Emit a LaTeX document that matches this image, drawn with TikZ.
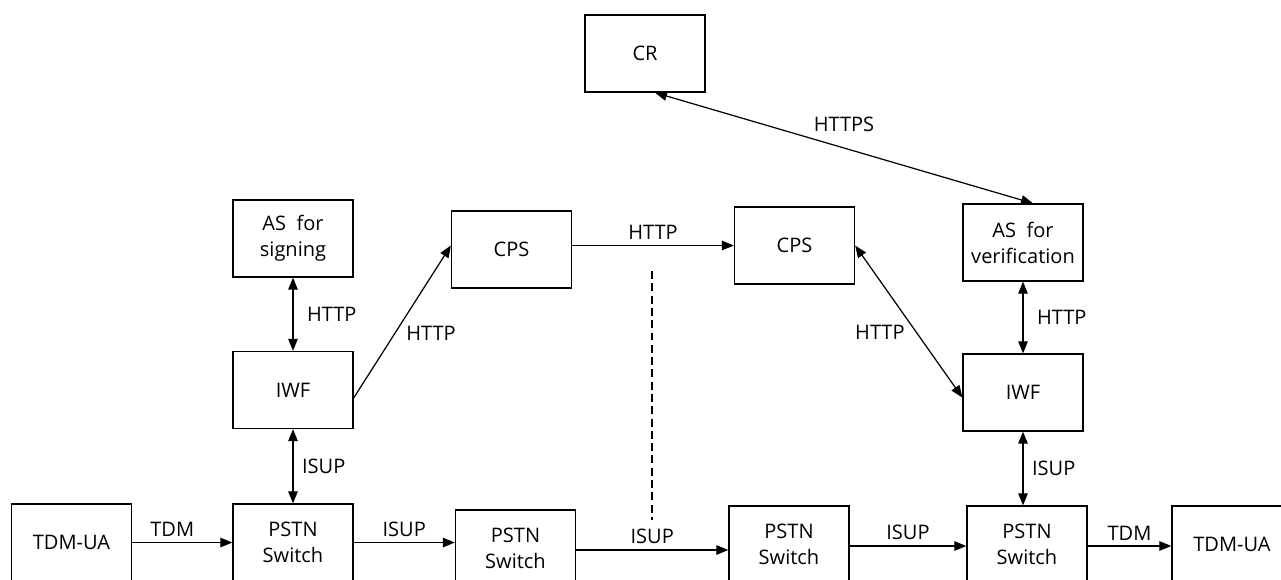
\documentclass[tikz,border=0pt]{standalone}
\usepackage{fontspec}
\setmainfont{Open Sans}
\usepackage{tikz}
\usetikzlibrary{calc, arrows.meta}

\begin{document}
\begin{tikzpicture}[
    x=0.02cm, y=-0.02cm,
    font=\fontsize{11.4}{14.8}\selectfont,
    box/.style={draw, line width=0.75pt, fill=white, align=center,
                minimum width=2.4cm, minimum height=1.54cm, inner sep=2pt},
    link/.style={-{Triangle[length=2.4mm, width=1.9mm]}, line width=0.7pt},
    blink/.style={{Triangle[length=2.4mm, width=1.9mm]}-{Triangle[length=2.4mm, width=1.9mm]}, line width=0.7pt},
    proto/.style={inner sep=2pt},
  ]
  \useasboundingbox (0,0) rectangle (1281,579);
  \clip (0,0) rectangle (1281,579);

  % ---------------- Upper part ----------------
  \node[box] (cr)   at (645, 53.5)    {CR};
  \node[box] (ass)  at (293, 238.5)   {AS~ for\\signing};
  \node[box] (cpsL) at (511.5, 249.5) {CPS};
  \node[box] (cpsR) at (794.5, 245.5) {CPS};
  \node[box] (asv)  at (1023, 242.5)  {AS~ for\\verification};
  \node[box] (iwfL) at (293, 390)     {IWF};
  \node[box] (iwfR) at (1023, 392.5)  {IWF};

  % ---------------- Switch row ----------------
  \node[box] (uaL)   at (71.5, 542.5)  {TDM-UA};
  \node[box] (pstnA) at (293, 542.5)   {PSTN\\Switch};
  \node[box] (pstnB) at (515.5, 548.5) {PSTN\\Switch};
  \node[box] (pstnC) at (789, 544.5)   {PSTN\\Switch};
  \node[box] (pstnD) at (1027, 544.5)  {PSTN\\Switch};
  \node[box] (uaR)   at (1232, 544.5)  {TDM-UA};

  % ---------------- Signalling ----------------
  \draw[blink] (ass) -- node[proto, right=2mm] {HTTP} (iwfL);
  \draw[blink] (iwfL) -- node[proto, right=1mm] {ISUP} (pstnA);
  \draw[link] ($(iwfL.east)+(0,8)$) -- node[proto, pos=0.5, below right] {HTTP} ($(cpsL.west)+(0,-4)$);
  \draw[link] (cpsL.east |- cpsR.west) -- node[proto, above=1pt] {HTTP} (cpsR.west);
  \draw[blink] (cpsR.east) -- node[proto, pos=0.5, below left] {HTTP} ($(iwfR.west)+(0,5)$);
  \draw[blink] (asv) -- node[proto, right=2mm] {HTTP} (iwfR);
  \draw[blink] (iwfR) -- node[proto, right=1mm] {ISUP} ($(pstnD.north)+(-4,0)$);
  \draw[blink] ($(cr.south)+(10,0)$) -- node[proto, above=2.5mm] {HTTPS} ($(asv.north)+(10,0)$);

  % ---------------- Bearer path ----------------
  \draw[link] (uaL) -- node[proto, above=1pt, pos=0.4] {TDM} (pstnA);
  \draw[link] (pstnA) -- node[proto, above=1pt] {ISUP} (pstnA.east -| pstnB.west);
  \draw[link] ($(pstnB.east)+(0,1.5)$) -- node[proto, above=1pt] {ISUP} ($(pstnC.west)+(0,5.5)$);
  \draw[link] ($(pstnC.east)+(0,1.5)$) -- node[proto, above=1pt] {ISUP} ($(pstnD.west)+(0,1.5)$);
  \draw[link] ($(pstnD.east)+(0,1.5)$) -- node[proto, above=1pt] {TDM} ($(uaR.west)+(0,1.5)$);

  % ---------------- Domain border ----------------
  \coordinate (bTop) at (652, 271);
  \coordinate (bBot) at (652, 520);
  \draw[line width=0.6pt, dash pattern=on 4.5pt off 2.5pt] (bTop) -- (bBot);
\end{tikzpicture}
\end{document}
